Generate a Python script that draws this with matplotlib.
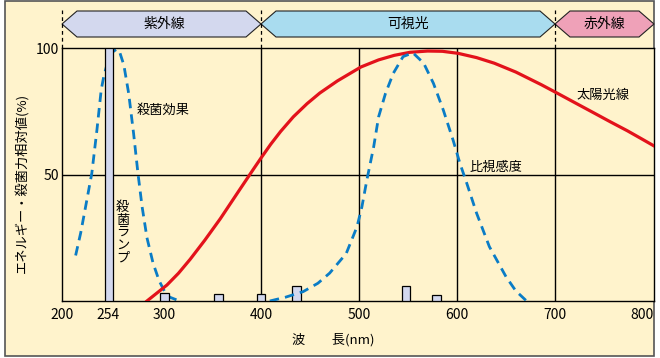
import numpy as np
import matplotlib
matplotlib.use('Agg')
import matplotlib.pyplot as plt
from matplotlib.patches import Polygon, Rectangle

plt.rcParams['font.family'] = ['Noto Sans CJK JP', 'DejaVu Sans']

# ---- data ----
# solar radiation (relative, %)
sun_nm = [286, 303, 315, 327, 342, 358, 378, 392, 400, 410, 420, 433, 447, 460, 478,
          502, 520, 536, 552, 570, 585, 601, 620, 638, 660, 686, 702, 720, 739, 756,
          773, 787, 800]
sun_val = [0, 6.3, 11, 16.5, 24, 32.5, 44, 52, 56.5, 62, 67, 72.8, 78, 82.2, 87,
           92.5, 95.3, 97.1, 98.3, 98.8, 98.7, 97.9, 96.2, 94, 90.5, 85.5, 82.2, 78.4, 74.4, 70.8,
           67.3, 64.2, 61.3]

# germicidal effect curve
germ_nm = [216, 222, 227, 235, 241, 246, 249, 254, 258, 261, 263.5, 267, 271, 275,
           278.6, 282, 286, 291, 296, 301, 306, 316]
germ_val = [18, 27, 36, 50.5, 67.6, 83.4, 88.7, 95, 98.5, 99.5, 98.5, 93.3, 82, 66.3,
            50.5, 37.3, 25, 15, 8, 3.5, 1.5, 0]

# luminous efficiency curve
vis_nm = [409, 425, 443, 458, 470, 487, 498, 503, 508, 515, 520, 527, 535, 545, 555,
          566, 576, 586, 596, 603, 610, 620, 633, 650, 660, 671]
vis_val = [0, 1.5, 3.7, 7, 11, 18.8, 29.4, 37.3, 47.8, 61, 72.8, 82, 90, 96.6, 98.1,
           94, 86, 75.5, 63.6, 54.4, 46.5, 34.7, 21.5, 9.6, 4, 0]

# germicidal lamp spectral lines
lamp_nm = [254, 301, 356, 400, 436, 548, 579]
lamp_val = [100, 3, 2.6, 2.6, 5.8, 5.8, 2.2]
lamp_w = [8, 9, 9, 9, 9, 9, 9]

# bands on top
band_names = ['紫外線', '可視光', '赤外線']
band_edges = [(200, 400), (400, 700), (700, 800)]
band_colors = ['#d3d8ee', '#a9dcef', '#efa1b8']

xticks = [200, 254, 300, 400, 500, 600, 700, 800]

# non-uniform wavelength axis as drawn in the reference
scale_nm = [200, 254, 300, 400, 500, 600, 700, 800]
scale_px = [62, 108, 164, 261, 359, 457, 555, 654]


def fwd(x):
    return np.interp(x, scale_nm, scale_px)


def inv(y):
    return np.interp(y, scale_px, scale_nm)


bg = '#fff3cc'
fig = plt.figure(figsize=(6.6, 3.58), dpi=100)
fig.patch.set_facecolor('white')
fig.add_artist(Rectangle((5 / 660, 2 / 358), 649 / 660, 355 / 358, transform=fig.transFigure,
                         facecolor=bg, edgecolor='#555555', lw=1.2, zorder=-10))

ax = fig.add_axes([62 / 660, 1 - 301 / 358, 592 / 660, 253 / 358])
ax.set_facecolor(bg)
ax.set_xscale('function', functions=(fwd, inv))
ax.set_xlim(200, 800)
ax.set_ylim(0, 100)

for v in [400, 500, 600, 700]:
    ax.axvline(v, color='black', lw=1.0, zorder=1)
ax.axhline(50, color='black', lw=1.0, zorder=1)

ax.bar(lamp_nm, lamp_val, width=lamp_w, color='#d3d8ee', edgecolor='black', lw=0.9, zorder=3)

ax.plot(sun_nm, sun_val, color='#e3121b', lw=2.3, zorder=4, solid_joinstyle='round')
ax.plot(germ_nm, germ_val, color='#0a7cc6', lw=2.0, ls=(0, (3.4, 2.2)), zorder=2)
ax.plot(vis_nm, vis_val, color='#0a7cc6', lw=2.0, ls=(0, (3.4, 2.2)), zorder=4)

ax.set_xticks(xticks)
ax.set_xticklabels([str(t) for t in xticks], fontsize=10)
ax.get_xticklabels()[-1].set_ha('right')
ax.set_yticks([50, 100])
ax.set_yticklabels(['50', '100'], fontsize=10)
ax.tick_params(axis='x', length=0, pad=5)
ax.tick_params(axis='y', length=0, pad=2)
for s in ax.spines.values():
    s.set_linewidth(1.0)

ax.text(277.5, 75.5, '殺菌効果', fontsize=9.5, va='center', ha='left')
ax.text(722, 81.4, '太陽光線', fontsize=9.5, va='center', ha='left')
ax.text(613, 53, '比視感度', fontsize=9.5, va='center', ha='left')
ax.text(266, 27, '\n'.join('殺菌ランプ'), fontsize=9.5, va='center', ha='center', linespacing=0.95)

fig.text(22 / 660, 1 - 183 / 358, 'エネルギー・殺菌力相対値(%)', rotation=90, fontsize=9.5,
         va='center', ha='center')
fig.text(333 / 660, 1 - 340 / 358, '波　　長(nm)', fontsize=9.5, va='center', ha='center')

# top band with arrow shapes
bax = fig.add_axes([62 / 660, 1 - 37 / 358, 592 / 660, 26 / 358], sharex=ax)
bax.set_ylim(0, 1)
bax.axis('off')
ins = 15
for name, (a, b), c in zip(band_names, band_edges, band_colors):
    pa = fwd(a)
    pb = fwd(b)
    pts = [(a, 0.5), (inv(pa + ins), 1), (inv(pb - ins), 1), (b, 0.5), (inv(pb - ins), 0), (inv(pa + ins), 0)]
    bax.add_patch(Polygon(pts, closed=True, facecolor=c, edgecolor='#222222', lw=0.8, clip_on=False))
    bax.text((a + b) / 2, 0.5, name, fontsize=10, va='center', ha='center')
for v in [200, 400, 700]:
    bax.plot([v, v], [-0.42, 1.05], color='black', lw=0.9, ls=(0, (3, 2.5)), clip_on=False)

fig.savefig('out.png', dpi=100, facecolor=fig.get_facecolor())
